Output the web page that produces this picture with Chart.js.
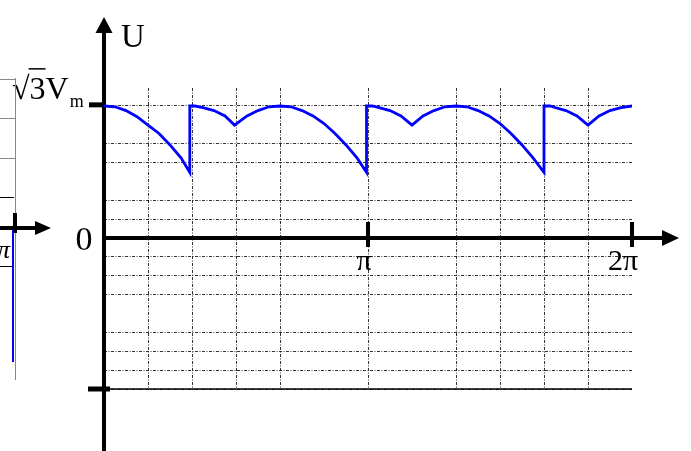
<!DOCTYPE html>
<html>
<head>
<meta charset="utf-8">
<script src="https://cdn.jsdelivr.net/npm/chart.js@4/dist/chart.umd.min.js"></script>
<style>
  html, body { margin: 0; padding: 0; background: #fff; }
  #wrap { width: 691px; height: 451px; position: relative; }
</style>
</head>
<body>
<div id="wrap"><canvas id="c"></canvas></div>
<script>
// ---- data (x in degrees, y in units of Vm) ----
const thetaDeg = [
  0, 7.5, 15, 22.5, 30, 37.5, 45, 52.5, 58.5,
  58.5, 62, 67.5, 75, 82.5, 89,
  97.5, 105, 112.5, 120, 127.5, 135, 142.5, 150, 157.5, 165, 172.5, 179,
  179, 183, 187.5, 195, 202.5, 210,
  217.5, 225, 232.5, 240, 247.5, 255, 262.5, 270, 277.5, 285, 292.5, 300,
  300, 304, 307.5, 315, 322.5, 330,
  337.5, 345, 352.5, 360
];
const voltage = [
  1.73, 1.72, 1.67, 1.59, 1.48, 1.37, 1.22, 1.05, 0.86,
  1.73, 1.73, 1.71, 1.67, 1.60, 1.48,
  1.60, 1.67, 1.72, 1.73, 1.72, 1.67, 1.60, 1.50, 1.37, 1.22, 1.05, 0.86,
  1.73, 1.73, 1.71, 1.67, 1.60, 1.48,
  1.60, 1.67, 1.72, 1.73, 1.72, 1.67, 1.60, 1.50, 1.37, 1.22, 1.05, 0.86,
  1.73, 1.73, 1.71, 1.67, 1.60, 1.48,
  1.60, 1.67, 1.71, 1.73
];
// grid lines
const gridXDeg = [30, 60, 90, 120, 180, 240, 270, 300, 330];
const gridYSteps = [-8, -7, -6, -5, -3, -2, -1, 1, 2, 4, 5, 7]; // in sevenths of sqrt(3)Vm
const peakValue = 1.732;            // sqrt(3)Vm
const yMin = -1.979, yMax = 1.966;  // axis range (Vm units)
const xTickValues = [180, 360];
const xTickLabels = ['π', '2π'];
const yLabelZero = '0';
const yLabelPeak = ['√', '3', 'V', 'm'];
const yAxisTitle = 'U';

const step = peakValue / 7;

const decor = {
  id: 'decor',
  beforeDatasetsDraw(chart) {
    const ctx = chart.ctx;
    const xs = chart.scales.x, ys = chart.scales.y;
    const x0 = xs.getPixelForValue(0), y0 = ys.getPixelForValue(0);
    const yBot = ys.getPixelForValue(yMin);
    const yPeak = ys.getPixelForValue(peakValue);
    ctx.save();
    ctx.strokeStyle = '#000'; ctx.fillStyle = '#000';
    // bottom solid line
    ctx.lineWidth = 1.5;
    ctx.beginPath(); ctx.moveTo(x0, yBot); ctx.lineTo(xs.getPixelForValue(360), yBot); ctx.stroke();
    // y axis
    ctx.lineWidth = 4;
    ctx.beginPath(); ctx.moveTo(x0, 30); ctx.lineTo(x0, 451); ctx.stroke();
    ctx.beginPath(); ctx.moveTo(x0, 17); ctx.lineTo(x0 - 8.5, 33); ctx.lineTo(x0 + 8.5, 33); ctx.closePath(); ctx.fill();
    // x axis
    ctx.beginPath(); ctx.moveTo(x0, y0); ctx.lineTo(664, y0); ctx.stroke();
    ctx.beginPath(); ctx.moveTo(679, y0); ctx.lineTo(662, y0 - 8); ctx.lineTo(662, y0 + 8); ctx.closePath(); ctx.fill();
    // x ticks
    xTickValues.forEach(v => {
      const px = xs.getPixelForValue(v);
      ctx.beginPath(); ctx.moveTo(px, y0 - 16); ctx.lineTo(px, y0 + 9); ctx.stroke();
    });
    // y ticks
    ctx.lineWidth = 5;
    ctx.beginPath(); ctx.moveTo(x0 - 15, yPeak - 1); ctx.lineTo(x0, yPeak - 1); ctx.stroke();
    ctx.beginPath(); ctx.moveTo(x0 - 16, yBot); ctx.lineTo(x0 + 6, yBot); ctx.stroke();

    // labels
    ctx.textBaseline = 'alphabetic';
    ctx.font = '30px "Liberation Serif", "Times New Roman", serif';
    ctx.textAlign = 'center';
    ctx.fillText(xTickLabels[0], xs.getPixelForValue(xTickValues[0]) - 4, y0 + 32);
    ctx.fillText(xTickLabels[1], xs.getPixelForValue(xTickValues[1]) - 9, y0 + 32);
    ctx.font = '34px "Liberation Serif", "Times New Roman", serif';
    ctx.fillText(yLabelZero, x0 - 20, y0 + 12);
    ctx.font = '33px "Liberation Serif", "Times New Roman", serif';
    ctx.textAlign = 'left';
    ctx.fillText(yAxisTitle, x0 + 17, 47);
    // sqrt(3) V m
    ctx.font = '32px "Liberation Serif", "Times New Roman", serif';
    let px = 12;
    const base = yPeak - 7;
    ctx.fillText(yLabelPeak[0], px, base);
    px += ctx.measureText(yLabelPeak[0]).width;
    const w3 = ctx.measureText(yLabelPeak[1]).width;
    ctx.fillText(yLabelPeak[1], px, base);
    ctx.lineWidth = 1.5;
    ctx.beginPath(); ctx.moveTo(px - 1, base - 30); ctx.lineTo(px + w3, base - 30); ctx.stroke();
    px += w3;
    ctx.fillText(yLabelPeak[2], px, base);
    px += ctx.measureText(yLabelPeak[2]).width;
    ctx.font = '18px "Liberation Serif", "Times New Roman", serif';
    ctx.fillText(yLabelPeak[3], px + 1, base + 8);

    // remnant of neighbouring figure at the left edge
    ctx.strokeStyle = '#888'; ctx.lineWidth = 1;
    ctx.beginPath(); ctx.moveTo(15.5, 78); ctx.lineTo(15.5, 380); ctx.stroke();
    [79, 118, 158].forEach(y => { ctx.beginPath(); ctx.moveTo(0, y + 0.5); ctx.lineTo(15, y + 0.5); ctx.stroke(); });
    ctx.strokeStyle = '#000';
    [197, 266].forEach(y => { ctx.beginPath(); ctx.moveTo(0, y + 0.5); ctx.lineTo(14, y + 0.5); ctx.stroke(); });
    ctx.strokeStyle = '#0000ff'; ctx.lineWidth = 2;
    ctx.beginPath(); ctx.moveTo(13, 229); ctx.lineTo(13, 362); ctx.stroke();
    ctx.strokeStyle = '#000'; ctx.lineWidth = 4;
    ctx.beginPath(); ctx.moveTo(0, 228); ctx.lineTo(38, 228); ctx.stroke();
    ctx.beginPath(); ctx.moveTo(51, 228); ctx.lineTo(35, 221); ctx.lineTo(35, 235); ctx.closePath(); ctx.fill();
    ctx.beginPath(); ctx.moveTo(15, 213); ctx.lineTo(15, 233); ctx.stroke();
    ctx.font = 'italic 26px "Liberation Serif", serif';
    ctx.fillText('π', -3, 258);
    ctx.restore();
  }
};

const points = thetaDeg.map((t, i) => ({ x: t, y: voltage[i] }));

new Chart(document.getElementById('c'), {
  type: 'line',
  data: {
    datasets: [{
      data: points,
      borderColor: '#0000ff',
      borderWidth: 2.8,
      pointRadius: 0,
      tension: 0,
      fill: false
    }]
  },
  options: {
    responsive: true,
    maintainAspectRatio: false,
    animation: false,
    events: [],
    layout: { padding: { left: 104, right: 59, top: 88, bottom: 62 } },
    plugins: { legend: { display: false }, tooltip: { enabled: false } },
    scales: {
      x: {
        type: 'linear', min: 0, max: 360,
        afterBuildTicks: s => { s.ticks = gridXDeg.map(v => ({ value: v })); },
        ticks: { display: false },
        grid: { color: 'rgba(0,0,0,0.8)', lineWidth: 1, drawTicks: false },
        border: { display: false, dash: [3, 1.5, 1, 1.5] }
      },
      y: {
        type: 'linear', min: yMin, max: yMax,
        afterBuildTicks: s => { s.ticks = gridYSteps.map(k => ({ value: k * step })); },
        ticks: { display: false },
        grid: { color: 'rgba(0,0,0,0.8)', lineWidth: 1, drawTicks: false },
        border: { display: false, dash: [3, 1.5, 1, 1.5] }
      }
    }
  },
  plugins: [decor]
});
</script>
</body>
</html>
